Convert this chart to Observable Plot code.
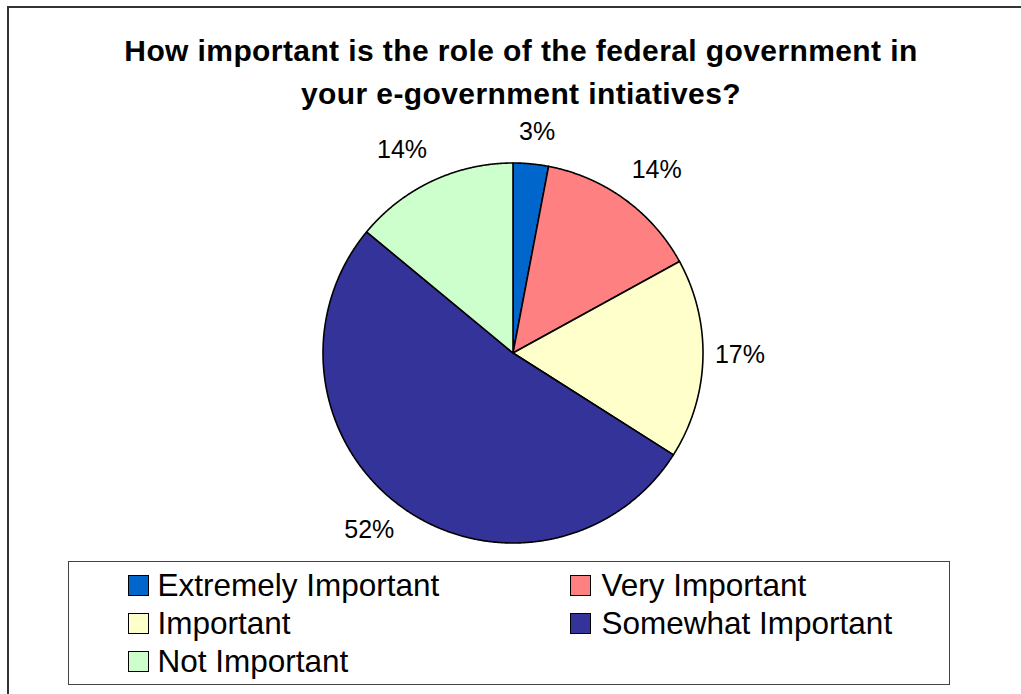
<!DOCTYPE html>
<html>
<head>
<meta charset="utf-8">
<script src="https://cdn.jsdelivr.net/npm/d3@7"></script>
<script src="https://cdn.jsdelivr.net/npm/@observablehq/plot@0.6"></script>
<style>
  html { margin: 0; padding: 0; overflow: hidden; background: #fff; }
  body { margin: 0; padding: 0; height: 694px; position: relative; font-family: "Liberation Sans", Arial, sans-serif; }
  #frame { position: absolute; left: 7px; top: 6px; width: 1400px; height: 900px; border-left: 2px solid #333; border-top: 2px solid #333; box-sizing: border-box; }
  #title { position: absolute; left: 0; top: 29px; width: 1042px; text-align: center; font-weight: bold; font-size: 30px; line-height: 43px; letter-spacing: 0.4px; color: #000; }
  #chart { position: absolute; left: 0; top: 0; }
  #legend { position: absolute; left: 68px; top: 561px; width: 882px; height: 124px; border: 1.5px solid #444; box-sizing: border-box; background: #fff; }
  .sw { position: absolute; width: 21px; height: 21px; border: 1.5px solid #000; box-sizing: border-box; }
  .lt { position: absolute; font-size: 31.5px; line-height: 30px; color: #000; white-space: nowrap; }
  #cover { position: absolute; left: 1010px; top: 9px; width: 40px; height: 700px; background: #fff; z-index: 10; }
</style>
</head>
<body>
<div id="frame"></div>
<div id="chart"></div>
<div id="title">How important is the role of the federal government in<br>your e-government intiatives?</div>
<div id="legend"></div>
<div id="cover"></div>
<script>
const categories = ["Extremely Important", "Very Important", "Important", "Somewhat Important", "Not Important"];
const values = [3, 14, 17, 52, 14];
const labels = ["3%", "14%", "17%", "52%", "14%"];
const colors = ["#0066CC", "#FF8080", "#FFFFCC", "#333399", "#CCFFCC"];

const R = 190; // pixel radius
const arcs = d3.pie().sort(null)(values);

// slice outlines (center -> arc -> center) in unit coordinates
const slicePts = [];
arcs.forEach((a, i) => {
  const name = categories[i];
  slicePts.push({name, x: 0, y: 0});
  const steps = Math.max(2, Math.ceil((a.endAngle - a.startAngle) / (Math.PI / 720)));
  for (let k = 0; k <= steps; k++) {
    const t = a.startAngle + (a.endAngle - a.startAngle) * k / steps;
    slicePts.push({name, x: Math.sin(t), y: Math.cos(t)});
  }
  slicePts.push({name, x: 0, y: 0});
});

// label positions: outside the pie, text box pushed off the rim
const FS = 25;
const labelPts = arcs.map((a, i) => {
  const m = (a.startAngle + a.endAngle) / 2;
  const s = Math.sin(m), c = Math.cos(m);
  const w = labels[i].length === 2 ? 1.445 * FS : 2.0 * FS, h = 22;
  const px = (R + 12) * s + Math.sign(s) * Math.min(1, 3 * Math.abs(s)) * w / 2;
  const py = (R + 21) * c + c * h / 2 + Math.abs(s) * 5;
  return {text: labels[i], x: px / R, y: py / R};
});

const W = 1021, H = 560, cx = 512.5, cy = 352.5;
const chart = Plot.plot({
  width: W,
  height: H,
  marginLeft: cx - R,
  marginRight: W - (cx + R),
  marginTop: cy - R,
  marginBottom: H - (cy + R),
  x: {domain: [-1, 1], axis: null},
  y: {domain: [-1, 1], axis: null},
  color: {domain: categories, range: colors},
  style: {background: "transparent", overflow: "visible", fontFamily: "'Liberation Sans', Arial, sans-serif"},
  marks: [
    Plot.line(slicePts, {x: "x", y: "y", z: "name", fill: "name", stroke: "#000", strokeWidth: 1.6, strokeLinejoin: "round", curve: "linear"}),
    Plot.text(labelPts, {x: "x", y: "y", text: "text", fontSize: FS, fill: "#000", textAnchor: "middle", lineAnchor: "middle"})
  ]
});
document.getElementById("chart").appendChild(chart);

// legend
const legend = document.getElementById("legend");
const colSw = [128, 570], colTx = [158, 602], rowTop = [575, 613, 651];
categories.forEach((name, i) => {
  const col = i % 2, row = Math.floor(i / 2);
  const sw = document.createElement("div");
  sw.className = "sw";
  sw.style.left = (colSw[col] - 68 - 1.5) + "px";
  sw.style.top = (rowTop[row] - 561 - 1.5) + "px";
  sw.style.background = colors[i];
  legend.appendChild(sw);
  const tx = document.createElement("div");
  tx.className = "lt";
  tx.textContent = name;
  tx.style.left = (colTx[col] - 68 - 1.5) + "px";
  tx.style.top = (rowTop[row] - 5 - 561 - 1.5) + "px";
  legend.appendChild(tx);
});
</script>
</body>
</html>
